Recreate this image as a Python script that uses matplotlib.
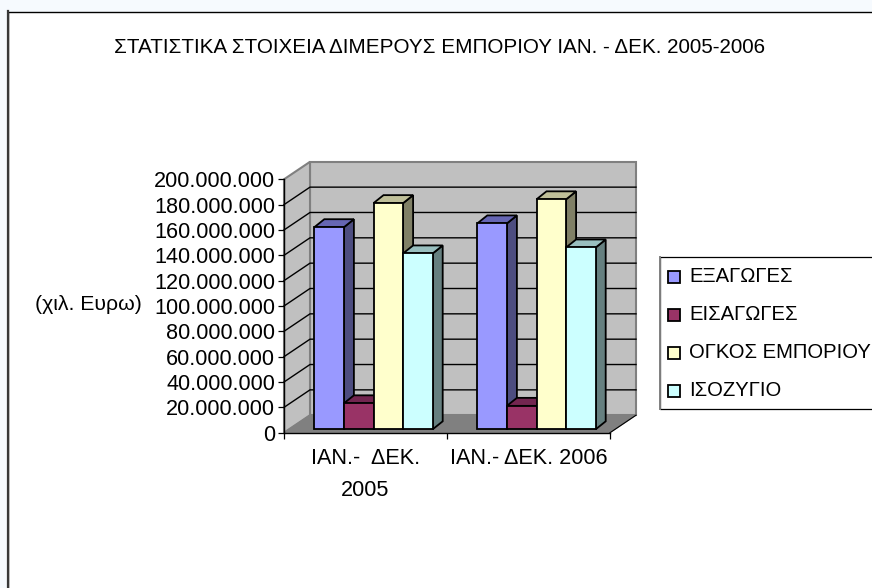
import matplotlib
matplotlib.use("Agg")
import matplotlib.pyplot as plt
from matplotlib.patches import Polygon, Rectangle

categories = ["ΙΑΝ.-  ΔΕΚ.\n2005", "ΙΑΝ.- ΔΕΚ. 2006"]
series_names = ["ΕΞΑΓΩΓΕΣ", "ΕΙΣΑΓΩΓΕΣ", "ΟΓΚΟΣ ΕΜΠΟΡΙΟΥ", "ΙΣΟΖΥΓΙΟ"]
exports = [159.5e6, 162.5e6]
imports = [20.5e6, 18.5e6]
volume = [178.5e6, 181.5e6]
balance = [138.8e6, 143.5e6]
y_ticks = list(range(0, 200_000_001, 20_000_000))
y_labels = [f"{t:,}".replace(",", ".") for t in y_ticks]
title = "ΣΤΑΤΙΣΤΙΚΑ ΣΤΟΙΧΕΙΑ ΔΙΜΕΡΟΥΣ ΕΜΠΟΡΙΟΥ ΙΑΝ. - ΔΕΚ. 2005-2006"
y_title = "(χιλ. Ευρω)"

colors = ["#9999FF", "#993366", "#FFFFCC", "#CCFFFF"]
sides = ["#4D4D80", "#4D1A33", "#808066", "#668080"]
tops = ["#6666B3", "#732650", "#BFBF99", "#99BFBF"]

W, H = 872, 588
FONT = "Liberation Sans"
plt.rcParams["font.family"] = FONT

fig = plt.figure(figsize=(W / 100, H / 100), dpi=100, facecolor="#F6FAFE")

# pixel overlay for the frame, legend and loose labels
page = fig.add_axes([0, 0, 1, 1], zorder=0)
page.set_xlim(0, W)
page.set_ylim(H, 0)
page.axis("off")
page.add_patch(Rectangle((8, 11.5), W, H, fc="white", ec="black", lw=1.0))
page.plot([8, 8], [11, H], color="#383838", lw=1.6)
page.text(439, 47.5, title, ha="center", va="center", fontsize=14.9)
page.text(88.5, 304, y_title, ha="center", va="center", fontsize=15.3)

# legend
page.add_patch(Rectangle((660, 257), W, 152, fc="white", ec="black", lw=0.9))
page.plot([660, 660], [257, 409], color="#808080", lw=1.4)
for i, name in enumerate(series_names):
    yc = 277 + i * 38
    page.add_patch(Rectangle((668, yc - 6), 12, 12, fc=colors[i], ec="black", lw=1.3))
    page.text(689, yc, name, va="center", fontsize=14.6)

# front plane of the 3d box is the axes itself
x0, x1, y0, y1 = 284, 610, 432.7, 179.3
ax = fig.add_axes([x0 / W, 1 - y0 / H, (x1 - x0) / W, (y0 - y1) / H], zorder=1)
ax.patch.set_visible(False)
ax.set_xlim(0, len(categories))
ax.set_ylim(0, 200e6)
px_x = len(categories) / (x1 - x0)
px_y = 200e6 / (y0 - y1)

wall_dx, wall_dy = 26 * px_x, 17.5 * px_y
ymax = y_ticks[-1]


def poly(pts, fc, ec="black", lw=1.3, z=2):
    ax.add_patch(Polygon(pts, closed=True, fc=fc, ec=ec, lw=lw, zorder=z, clip_on=False, joinstyle="miter"))


# walls and floor
poly([(wall_dx, wall_dy), (2 + wall_dx, wall_dy), (2 + wall_dx, ymax + wall_dy), (wall_dx, ymax + wall_dy)],
     "#C0C0C0", "#808080", 1.5, 1)
poly([(0, 0), (wall_dx, wall_dy), (wall_dx, ymax + wall_dy), (0, ymax)], "#C0C0C0", "#808080", 1.5, 1)
poly([(0, 0), (2, 0), (2 + wall_dx, wall_dy), (wall_dx, wall_dy)], "#808080", "#808080", 0.8, 1)

# gridlines
for t in y_ticks[1:-1]:
    ax.plot([0, wall_dx, 2 + wall_dx], [t, t + wall_dy, t + wall_dy], color="black", lw=1.0, zorder=1.5, clip_on=False)
ax.plot([2, 2 + wall_dx], [0, wall_dy], color="black", lw=0.8, zorder=1.5, clip_on=False)

# columns
front_dx, front_dy = 8 * px_x, 3.4 * px_y
depth_dx, depth_dy = 10 * px_x, 8 * px_y
bar_w = 29.6 * px_x
all_series = [exports, imports, volume, balance]
for c in range(len(categories)):
    left = c + 0.5 + front_dx - 2 * bar_w
    for s, values in enumerate(all_series):
        xl = left + s * bar_w
        xr = xl + bar_w
        top = values[c] + front_dy
        poly([(xr, front_dy), (xr + depth_dx, front_dy + depth_dy), (xr + depth_dx, top + depth_dy), (xr, top)], sides[s])
        poly([(xl, top), (xr, top), (xr + depth_dx, top + depth_dy), (xl + depth_dx, top + depth_dy)], tops[s])
        poly([(xl, front_dy), (xr, front_dy), (xr, top), (xl, top)], colors[s])

# axes
for name in ["top", "right"]:
    ax.spines[name].set_visible(False)
for name in ["left", "bottom"]:
    ax.spines[name].set_linewidth(1.0)
    ax.spines[name].set_zorder(1.8)
ax.set_yticks(y_ticks, y_labels, fontsize=15.6)
ax.set_xticks(range(len(categories) + 1), [""] * (len(categories) + 1))
ax.tick_params(axis="y", length=4.5, width=0.9, pad=2)
ax.tick_params(axis="x", length=4.5, width=0.9)
for i, label in enumerate(categories):
    ax.text(i + 0.5, -15.5 * px_y, label, ha="center", va="top", fontsize=15.6, linespacing=1.65)

fig.savefig("out.png", dpi=100, facecolor=fig.get_facecolor())
